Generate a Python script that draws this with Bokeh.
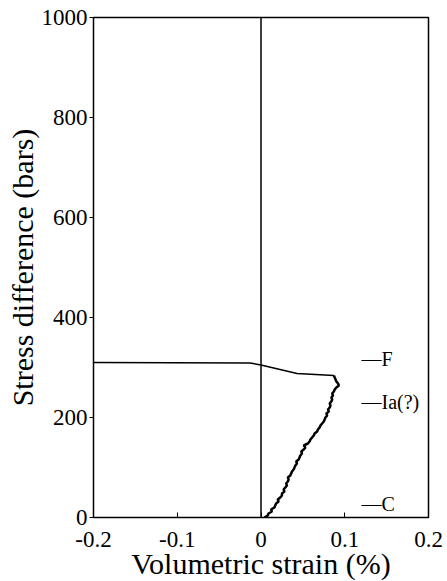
from bokeh.plotting import figure
from bokeh.models import Range1d, FixedTicker, Span
from bokeh.core.properties import value
from bokeh.embed import file_html
from bokeh.resources import INLINE

# ---- data ----
load_stress = [0, 4, 8, 12, 16, 20, 24, 28, 32, 36, 40, 44, 48, 52, 56, 60, 64, 68, 72, 76,
               80, 84, 88, 92, 96, 100, 104, 108, 112, 116, 120, 124, 128, 132, 136, 140, 144,
               148, 152, 156, 160, 164, 168, 172, 176, 180, 184, 188, 192, 196, 200, 204, 208,
               212, 216, 220, 224, 228, 232, 236, 240, 244, 248, 252, 256, 260, 264, 268, 272,
               276, 280, 284]
load_strain = [0.004, 0.008, 0.009, 0.013, 0.012, 0.016, 0.017, 0.018, 0.021, 0.020, 0.023,
               0.025, 0.025, 0.028, 0.027, 0.029, 0.031, 0.030, 0.032, 0.033, 0.032, 0.035,
               0.036, 0.037, 0.039, 0.040, 0.041, 0.043, 0.042, 0.045, 0.046, 0.047, 0.049,
               0.048, 0.051, 0.053, 0.051, 0.056, 0.058, 0.059, 0.061, 0.063, 0.064, 0.067,
               0.068, 0.070, 0.071, 0.073, 0.075, 0.076, 0.077, 0.079, 0.078, 0.081, 0.080,
               0.082, 0.083, 0.082, 0.084, 0.085, 0.084, 0.086, 0.085, 0.087, 0.088, 0.090,
               0.093, 0.092, 0.090, 0.089, 0.088, 0.087]

fail_strain = [0.087, 0.043, 0.0, -0.013, -0.2]
fail_stress = [284, 288, 305, 309, 310]

x_ticks = [-0.2, -0.1, 0, 0.1, 0.2]
x_tick_labels = ["-0.2", "-0.1", "0", "0.1", "0.2"]
y_ticks = [0, 200, 400, 600, 800, 1000]
y_tick_labels = ["0", "200", "400", "600", "800", "1000"]

marker_names = ["\u2014F", "\u2014Ia(?)", "\u2014C"]
marker_stress = [318, 232, 28]
marker_strain = [0.12, 0.12, 0.12]

x_title = "Volumetric strain (%)"
y_title = "Stress difference (bars)"

FONT = "Liberation Serif"

p = figure(frame_width=335, frame_height=500, output_backend="svg", toolbar_location=None,
           x_range=Range1d(-0.2, 0.2), y_range=Range1d(0, 1000),
           min_border_left=93, min_border_right=19, min_border_top=17, min_border_bottom=64)
p.background_fill_color = "white"
p.border_fill_color = "white"
p.outline_line_color = "black"
p.outline_line_width = 1.5
p.grid.visible = False

# axes
xa = p.xaxis[0]
xa.ticker = FixedTicker(ticks=x_ticks)
xa.major_label_overrides = {t: l for t, l in zip(x_ticks, x_tick_labels)}
xa.axis_line_color = None
xa.major_tick_in = 5
xa.major_tick_out = 0
xa.minor_tick_line_color = None
xa.major_label_text_font = FONT
xa.major_label_text_font_size = "23px"
xa.major_label_text_color = "black"
xa.major_label_standoff = 14
xa.axis_label = x_title
xa.axis_label_text_font = FONT
xa.axis_label_text_font_size = "30px"
xa.axis_label_text_font_style = "normal"
xa.axis_label_text_color = "black"
xa.axis_label_standoff = -3

ya = p.yaxis[0]
ya.ticker = FixedTicker(ticks=y_ticks)
ya.major_label_overrides = {t: l for t, l in zip(y_ticks, y_tick_labels)}
ya.axis_line_color = None
ya.major_tick_in = 0
ya.major_tick_out = 4
ya.minor_tick_line_color = None
ya.major_label_text_font = FONT
ya.major_label_text_font_size = "23px"
ya.major_label_text_color = "black"
ya.major_label_standoff = 2
ya.axis_label = y_title
ya.axis_label_text_font = FONT
ya.axis_label_text_font_size = "30px"
ya.axis_label_text_font_style = "normal"
ya.axis_label_text_color = "black"
ya.axis_label_standoff = 0

# vertical zero line
p.add_layout(Span(location=0, dimension="height", line_color="black", line_width=1.5))

# curves
p.line(load_strain, load_stress, line_color="black", line_width=2.5)
p.line(fail_strain, fail_stress, line_color="black", line_width=1.5)

# stage markers
p.text(x=marker_strain, y=marker_stress, text=marker_names, text_font=value(FONT),
       text_font_size="20px", text_color="black", text_align="left", text_baseline="middle")

open("out.html", "w").write(file_html(p, INLINE))
